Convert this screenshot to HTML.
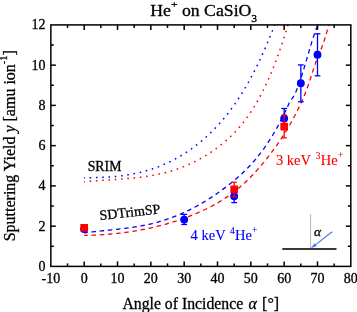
<!DOCTYPE html>
<html><head><meta charset="utf-8"><style>
html,body{margin:0;padding:0;background:#fff;}
svg{display:block;font-family:"Liberation Serif",serif;will-change:transform;}
text{stroke-width:0.3px;stroke-linejoin:round;}
</style></head><body>
<svg width="357" height="312" viewBox="0 0 357 312">
<rect width="357" height="312" fill="#fff"/>
<g fill="none" stroke-width="1.5">
<path d="M84.10,177.72 L85.10,177.72 L86.10,177.72 L87.10,177.72 L88.10,177.72 L89.10,177.72 L90.10,177.71 L91.10,177.70 L92.10,177.68 L93.10,177.67 L94.10,177.65 L95.10,177.63 L96.10,177.61 L97.10,177.58 L98.10,177.55 L99.10,177.52 L100.10,177.49 L101.10,177.45 L102.10,177.41 L103.10,177.36 L104.10,177.31 L105.10,177.26 L106.10,177.20 L107.10,177.14 L108.10,177.08 L109.10,177.01 L110.10,176.94 L111.10,176.86 L112.10,176.78 L113.10,176.69 L114.10,176.60 L115.10,176.51 L116.10,176.41 L117.10,176.31 L118.10,176.20 L119.10,176.09 L120.10,175.97 L121.10,175.85 L122.10,175.72 L123.10,175.58 L124.10,175.44 L125.10,175.30 L126.10,175.15 L127.10,174.99 L128.10,174.83 L129.10,174.66 L130.10,174.49 L131.10,174.31 L132.10,174.12 L133.10,173.93 L134.10,173.73 L135.10,173.53 L136.10,173.32 L137.10,173.10 L138.10,172.88 L139.10,172.65 L140.10,172.41 L141.10,172.16 L142.10,171.91 L143.10,171.65 L144.10,171.39 L145.10,171.11 L146.10,170.83 L147.10,170.54 L148.10,170.25 L149.10,169.95 L150.10,169.63 L151.10,169.32 L152.10,168.99 L153.10,168.65 L154.10,168.31 L155.10,167.96 L156.10,167.60 L157.10,167.23 L158.10,166.85 L159.10,166.47 L160.10,166.07 L161.10,165.67 L162.10,165.26 L163.10,164.84 L164.10,164.41 L165.10,163.97 L166.10,163.52 L167.10,163.07 L168.10,162.60 L169.10,162.12 L170.10,161.64 L171.10,161.14 L172.10,160.64 L173.10,160.12 L174.10,159.60 L175.10,159.06 L176.10,158.52 L177.10,157.96 L178.10,157.40 L179.10,156.82 L180.10,156.24 L181.10,155.64 L182.10,155.03 L183.10,154.41 L184.10,153.78 L185.10,153.14 L186.10,152.49 L187.10,151.83 L188.10,151.15 L189.10,150.47 L190.10,149.77 L191.10,149.06 L192.10,148.34 L193.10,147.61 L194.10,146.87 L195.10,146.11 L196.10,145.35 L197.10,144.57 L198.10,143.78 L199.10,142.97 L200.10,142.16 L201.10,141.33 L202.10,140.49 L203.10,139.64 L204.10,138.77 L205.10,137.89 L206.10,136.99 L207.10,136.09 L208.10,135.16 L209.10,134.23 L210.10,133.28 L211.10,132.31 L212.10,131.32 L213.10,130.33 L214.10,129.31 L215.10,128.28 L216.10,127.23 L217.10,126.16 L218.10,125.08 L219.10,123.98 L220.10,122.86 L221.10,121.72 L222.10,120.56 L223.10,119.38 L224.10,118.19 L225.10,116.97 L226.10,115.74 L227.10,114.48 L228.10,113.20 L229.10,111.90 L230.10,110.58 L231.10,109.24 L232.10,107.88 L233.10,106.49 L234.10,105.08 L235.10,103.65 L236.10,102.19 L237.10,100.71 L238.10,99.21 L239.10,97.68 L240.10,96.13 L241.10,94.55 L242.10,92.95 L243.10,91.32 L244.10,89.67 L245.10,87.99 L246.10,86.28 L247.10,84.55 L248.10,82.79 L249.10,81.00 L250.10,79.18 L251.10,77.34 L252.10,75.46 L253.10,73.56 L254.10,71.63 L255.10,69.67 L256.10,67.68 L257.10,65.66 L258.10,63.61 L259.10,61.53 L260.10,59.41 L261.10,57.27 L262.10,55.09 L263.10,52.89 L264.10,50.65 L265.10,48.37 L266.10,46.07 L267.10,43.73 L268.10,41.36 L269.10,38.95 L270.10,36.51 L271.10,34.03 L272.10,31.52 L273.10,28.97 L274.10,26.39 L274.67,24.90" stroke="#0000ff" stroke-dasharray="1.6 4.7" stroke-dashoffset="0.8" stroke-width="1.5"/>
<path d="M84.10,181.72 L85.10,181.63 L86.10,181.54 L87.10,181.45 L88.10,181.37 L89.10,181.28 L90.10,181.20 L91.10,181.13 L92.10,181.05 L93.10,180.97 L94.10,180.90 L95.10,180.83 L96.10,180.76 L97.10,180.69 L98.10,180.62 L99.10,180.55 L100.10,180.49 L101.10,180.42 L102.10,180.36 L103.10,180.29 L104.10,180.23 L105.10,180.17 L106.10,180.10 L107.10,180.04 L108.10,179.98 L109.10,179.91 L110.10,179.85 L111.10,179.79 L112.10,179.72 L113.10,179.66 L114.10,179.59 L115.10,179.52 L116.10,179.46 L117.10,179.39 L118.10,179.32 L119.10,179.25 L120.10,179.18 L121.10,179.10 L122.10,179.03 L123.10,178.95 L124.10,178.87 L125.10,178.79 L126.10,178.71 L127.10,178.62 L128.10,178.53 L129.10,178.44 L130.10,178.35 L131.10,178.26 L132.10,178.16 L133.10,178.06 L134.10,177.96 L135.10,177.85 L136.10,177.74 L137.10,177.63 L138.10,177.51 L139.10,177.39 L140.10,177.27 L141.10,177.14 L142.10,177.01 L143.10,176.87 L144.10,176.74 L145.10,176.59 L146.10,176.44 L147.10,176.29 L148.10,176.14 L149.10,175.97 L150.10,175.81 L151.10,175.64 L152.10,175.46 L153.10,175.28 L154.10,175.09 L155.10,174.90 L156.10,174.70 L157.10,174.50 L158.10,174.29 L159.10,174.08 L160.10,173.86 L161.10,173.63 L162.10,173.40 L163.10,173.16 L164.10,172.92 L165.10,172.67 L166.10,172.41 L167.10,172.14 L168.10,171.87 L169.10,171.59 L170.10,171.31 L171.10,171.01 L172.10,170.71 L173.10,170.41 L174.10,170.09 L175.10,169.77 L176.10,169.44 L177.10,169.10 L178.10,168.76 L179.10,168.40 L180.10,168.04 L181.10,167.67 L182.10,167.29 L183.10,166.90 L184.10,166.51 L185.10,166.10 L186.10,165.69 L187.10,165.27 L188.10,164.83 L189.10,164.39 L190.10,163.94 L191.10,163.48 L192.10,163.02 L193.10,162.54 L194.10,162.05 L195.10,161.55 L196.10,161.04 L197.10,160.52 L198.10,159.99 L199.10,159.45 L200.10,158.91 L201.10,158.35 L202.10,157.77 L203.10,157.19 L204.10,156.60 L205.10,156.00 L206.10,155.38 L207.10,154.76 L208.10,154.12 L209.10,153.47 L210.10,152.81 L211.10,152.14 L212.10,151.46 L213.10,150.76 L214.10,150.05 L215.10,149.33 L216.10,148.60 L217.10,147.86 L218.10,147.10 L219.10,146.33 L220.10,145.55 L221.10,144.75 L222.10,143.94 L223.10,143.12 L224.10,142.29 L225.10,141.44 L226.10,140.57 L227.10,139.69 L228.10,138.79 L229.10,137.87 L230.10,136.93 L231.10,135.98 L232.10,135.00 L233.10,134.00 L234.10,132.98 L235.10,131.94 L236.10,130.87 L237.10,129.78 L238.10,128.67 L239.10,127.53 L240.10,126.36 L241.10,125.17 L242.10,123.95 L243.10,122.70 L244.10,121.42 L245.10,120.11 L246.10,118.77 L247.10,117.40 L248.10,115.99 L249.10,114.55 L250.10,113.08 L251.10,111.58 L252.10,110.04 L253.10,108.46 L254.10,106.84 L255.10,105.19 L256.10,103.50 L257.10,101.77 L258.10,100.00 L259.10,98.19 L260.10,96.34 L261.10,94.45 L262.10,92.51 L263.10,90.53 L264.10,88.51 L265.10,86.44 L266.10,84.32 L267.10,82.16 L268.10,79.95 L269.10,77.69 L270.10,75.38 L271.10,73.02 L272.10,70.62 L273.10,68.16 L274.10,65.65 L275.10,63.08 L276.10,60.47 L277.10,57.79 L278.10,55.07 L279.10,52.29 L280.10,49.45 L281.10,46.55 L282.10,43.60 L283.10,40.59 L284.10,37.51 L285.10,34.38 L286.10,31.19 L287.10,27.93 L288.01,24.90" stroke="#ff0000" stroke-dasharray="1.6 4.7" stroke-dashoffset="0.8" stroke-width="1.5"/>
<path d="M84.10,232.89 L85.10,232.77 L86.10,232.64 L87.10,232.51 L88.10,232.39 L89.10,232.27 L90.10,232.16 L91.10,232.04 L92.10,231.93 L93.10,231.81 L94.10,231.70 L95.10,231.59 L96.10,231.48 L97.10,231.38 L98.10,231.27 L99.10,231.17 L100.10,231.06 L101.10,230.96 L102.10,230.86 L103.10,230.75 L104.10,230.65 L105.10,230.55 L106.10,230.44 L107.10,230.34 L108.10,230.24 L109.10,230.14 L110.10,230.03 L111.10,229.93 L112.10,229.82 L113.10,229.72 L114.10,229.61 L115.10,229.50 L116.10,229.39 L117.10,229.28 L118.10,229.17 L119.10,229.06 L120.10,228.94 L121.10,228.82 L122.10,228.70 L123.10,228.58 L124.10,228.46 L125.10,228.33 L126.10,228.20 L127.10,228.07 L128.10,227.94 L129.10,227.80 L130.10,227.66 L131.10,227.52 L132.10,227.37 L133.10,227.22 L134.10,227.07 L135.10,226.91 L136.10,226.75 L137.10,226.59 L138.10,226.42 L139.10,226.25 L140.10,226.07 L141.10,225.89 L142.10,225.70 L143.10,225.51 L144.10,225.32 L145.10,225.12 L146.10,224.91 L147.10,224.70 L148.10,224.49 L149.10,224.27 L150.10,224.04 L151.10,223.81 L152.10,223.57 L153.10,223.33 L154.10,223.08 L155.10,222.82 L156.10,222.56 L157.10,222.29 L158.10,222.02 L159.10,221.74 L160.10,221.45 L161.10,221.15 L162.10,220.85 L163.10,220.54 L164.10,220.23 L165.10,219.91 L166.10,219.58 L167.10,219.24 L168.10,218.90 L169.10,218.55 L170.10,218.19 L171.10,217.83 L172.10,217.46 L173.10,217.08 L174.10,216.70 L175.10,216.31 L176.10,215.91 L177.10,215.51 L178.10,215.10 L179.10,214.68 L180.10,214.25 L181.10,213.82 L182.10,213.38 L183.10,212.93 L184.10,212.48 L185.10,212.02 L186.10,211.55 L187.10,211.08 L188.10,210.59 L189.10,210.11 L190.10,209.61 L191.10,209.11 L192.10,208.60 L193.10,208.08 L194.10,207.55 L195.10,207.02 L196.10,206.48 L197.10,205.93 L198.10,205.38 L199.10,204.82 L200.10,204.25 L201.10,203.68 L202.10,203.09 L203.10,202.50 L204.10,201.91 L205.10,201.30 L206.10,200.69 L207.10,200.07 L208.10,199.44 L209.10,198.81 L210.10,198.17 L211.10,197.52 L212.10,196.86 L213.10,196.20 L214.10,195.52 L215.10,194.84 L216.10,194.16 L217.10,193.46 L218.10,192.76 L219.10,192.05 L220.10,191.34 L221.10,190.61 L222.10,189.88 L223.10,189.14 L224.10,188.39 L225.10,187.64 L226.10,186.88 L227.10,186.11 L228.10,185.33 L229.10,184.55 L230.10,183.75 L231.10,182.95 L232.10,182.14 L233.10,181.32 L234.10,180.49 L235.10,179.66 L236.10,178.81 L237.10,177.95 L238.10,177.07 L239.10,176.19 L240.10,175.29 L241.10,174.38 L242.10,173.45 L243.10,172.51 L244.10,171.55 L245.10,170.58 L246.10,169.59 L247.10,168.58 L248.10,167.56 L249.10,166.52 L250.10,165.45 L251.10,164.37 L252.10,163.27 L253.10,162.15 L254.10,161.01 L255.10,159.84 L256.10,158.66 L257.10,157.45 L258.10,156.21 L259.10,154.96 L260.10,153.67 L261.10,152.37 L262.10,151.03 L263.10,149.67 L264.10,148.29 L265.10,146.87 L266.10,145.43 L267.10,143.96 L268.10,142.46 L269.10,140.93 L270.10,139.37 L271.10,137.78 L272.10,136.16 L273.10,134.51 L274.10,132.82 L275.10,131.10 L276.10,129.34 L277.10,127.56 L278.10,125.73 L279.10,123.87 L280.10,121.98 L281.10,120.05 L282.10,118.08 L283.10,116.07 L284.10,114.02 L285.10,111.94 L286.10,109.82 L287.10,107.65 L288.10,105.45 L289.10,103.22 L290.10,101.36 L291.10,99.93 L292.10,98.64 L293.10,97.21 L294.10,95.48 L295.10,93.47 L296.10,91.23 L297.10,88.79 L298.10,86.19 L299.10,83.45 L300.10,80.58 L301.10,77.59 L302.10,74.49 L303.10,71.31 L304.10,68.05 L305.10,64.72 L306.10,61.35 L307.10,57.94 L308.10,54.51 L309.10,51.08 L310.10,47.68 L311.10,44.33 L312.10,41.06 L313.10,37.89 L314.10,34.86 L315.10,31.98 L316.10,29.29 L317.10,26.80 L317.94,24.90" stroke="#0000ff" stroke-dasharray="4.5 3.72" stroke-dashoffset="0.8" stroke-width="1.3"/>
<path d="M84.10,235.41 L85.10,235.40 L86.10,235.38 L87.10,235.36 L88.10,235.33 L89.10,235.31 L90.10,235.28 L91.10,235.25 L92.10,235.21 L93.10,235.18 L94.10,235.14 L95.10,235.09 L96.10,235.05 L97.10,235.00 L98.10,234.95 L99.10,234.89 L100.10,234.84 L101.10,234.78 L102.10,234.72 L103.10,234.65 L104.10,234.58 L105.10,234.51 L106.10,234.44 L107.10,234.36 L108.10,234.28 L109.10,234.20 L110.10,234.11 L111.10,234.02 L112.10,233.93 L113.10,233.83 L114.10,233.74 L115.10,233.63 L116.10,233.53 L117.10,233.42 L118.10,233.31 L119.10,233.20 L120.10,233.08 L121.10,232.96 L122.10,232.84 L123.10,232.71 L124.10,232.58 L125.10,232.45 L126.10,232.31 L127.10,232.17 L128.10,232.03 L129.10,231.89 L130.10,231.74 L131.10,231.58 L132.10,231.43 L133.10,231.27 L134.10,231.11 L135.10,230.94 L136.10,230.77 L137.10,230.60 L138.10,230.42 L139.10,230.24 L140.10,230.06 L141.10,229.87 L142.10,229.68 L143.10,229.49 L144.10,229.29 L145.10,229.09 L146.10,228.89 L147.10,228.68 L148.10,228.47 L149.10,228.26 L150.10,228.04 L151.10,227.82 L152.10,227.59 L153.10,227.36 L154.10,227.13 L155.10,226.89 L156.10,226.65 L157.10,226.41 L158.10,226.16 L159.10,225.91 L160.10,225.65 L161.10,225.39 L162.10,225.13 L163.10,224.86 L164.10,224.59 L165.10,224.31 L166.10,224.03 L167.10,223.75 L168.10,223.46 L169.10,223.17 L170.10,222.87 L171.10,222.57 L172.10,222.26 L173.10,221.95 L174.10,221.64 L175.10,221.32 L176.10,221.00 L177.10,220.67 L178.10,220.34 L179.10,220.00 L180.10,219.66 L181.10,219.31 L182.10,218.96 L183.10,218.60 L184.10,218.24 L185.10,217.88 L186.10,217.51 L187.10,217.13 L188.10,216.75 L189.10,216.37 L190.10,215.98 L191.10,215.59 L192.10,215.19 L193.10,214.78 L194.10,214.37 L195.10,213.96 L196.10,213.54 L197.10,213.11 L198.10,212.68 L199.10,212.24 L200.10,211.80 L201.10,211.35 L202.10,210.90 L203.10,210.44 L204.10,209.97 L205.10,209.50 L206.10,209.02 L207.10,208.53 L208.10,208.04 L209.10,207.53 L210.10,207.02 L211.10,206.50 L212.10,205.98 L213.10,205.44 L214.10,204.89 L215.10,204.34 L216.10,203.78 L217.10,203.21 L218.10,202.62 L219.10,202.03 L220.10,201.43 L221.10,200.82 L222.10,200.19 L223.10,199.56 L224.10,198.91 L225.10,198.26 L226.10,197.59 L227.10,196.91 L228.10,196.22 L229.10,195.51 L230.10,194.80 L231.10,194.07 L232.10,193.33 L233.10,192.57 L234.10,191.81 L235.10,191.02 L236.10,190.23 L237.10,189.42 L238.10,188.60 L239.10,187.76 L240.10,186.91 L241.10,186.04 L242.10,185.16 L243.10,184.26 L244.10,183.35 L245.10,182.43 L246.10,181.48 L247.10,180.53 L248.10,179.56 L249.10,178.57 L250.10,177.57 L251.10,176.56 L252.10,175.53 L253.10,174.48 L254.10,173.42 L255.10,172.34 L256.10,171.25 L257.10,170.15 L258.10,169.02 L259.10,167.89 L260.10,166.74 L261.10,165.57 L262.10,164.39 L263.10,163.19 L264.10,161.98 L265.10,160.75 L266.10,159.51 L267.10,158.25 L268.10,156.97 L269.10,155.68 L270.10,154.38 L271.10,153.06 L272.10,151.72 L273.10,150.37 L274.10,149.01 L275.10,147.62 L276.10,146.22 L277.10,144.80 L278.10,143.36 L279.10,141.90 L280.10,140.42 L281.10,138.92 L282.10,137.40 L283.10,135.85 L284.10,134.27 L285.10,132.67 L286.10,131.05 L287.10,129.39 L288.10,127.71 L289.10,126.00 L290.10,124.26 L291.10,122.48 L292.10,120.68 L293.10,118.84 L294.10,116.97 L295.10,115.06 L296.10,113.12 L297.10,111.14 L298.10,109.12 L299.10,107.07 L300.10,104.97 L301.10,102.83 L302.10,100.64 L303.10,98.38 L304.10,96.04 L305.10,93.61 L306.10,91.07 L307.10,88.41 L308.10,85.61 L309.10,82.68 L310.10,79.65 L311.10,76.55 L312.10,73.44 L313.10,70.34 L314.10,67.31 L315.10,64.38 L316.10,61.59 L317.10,58.97 L318.10,56.48 L319.10,54.05 L320.10,51.64 L321.10,49.18 L322.10,46.61 L323.10,43.89 L324.10,40.94 L325.10,37.73 L326.10,34.34 L327.10,30.94 L328.10,27.71 L329.07,24.90" stroke="#ff0000" stroke-dasharray="4.5 3.72" stroke-dashoffset="0.8" stroke-width="1.3"/>
</g>
<g fill="#0000ff" stroke="#0000ff" stroke-width="1.3"><circle cx="84.18" cy="229.10" r="3.35"/><line x1="184.17" y1="214.4" x2="184.17" y2="224.5"/><line x1="181.27" y1="214.4" x2="187.07" y2="214.4"/><line x1="181.27" y1="224.5" x2="187.07" y2="224.5"/><circle cx="184.17" cy="219.60" r="3.3"/><line x1="234.16" y1="189.8" x2="234.16" y2="202.6"/><line x1="231.26" y1="189.8" x2="237.06" y2="189.8"/><line x1="231.26" y1="202.6" x2="237.06" y2="202.6"/><circle cx="234.16" cy="196.20" r="3.3"/><line x1="284.16" y1="108.5" x2="284.16" y2="128"/><line x1="281.26" y1="108.5" x2="287.06" y2="108.5"/><line x1="281.26" y1="128" x2="287.06" y2="128"/><circle cx="284.16" cy="118.40" r="3.3"/><line x1="300.83" y1="64.9" x2="300.83" y2="101.8"/><line x1="297.93" y1="64.9" x2="303.73" y2="64.9"/><line x1="297.93" y1="101.8" x2="303.73" y2="101.8"/><circle cx="300.83" cy="83.20" r="3.3"/><line x1="317.49" y1="33.8" x2="317.49" y2="75.8"/><line x1="314.59" y1="33.8" x2="320.39" y2="33.8"/><line x1="314.59" y1="75.8" x2="320.39" y2="75.8"/><circle cx="317.49" cy="54.70" r="3.3"/></g>
<g fill="#ff0000" stroke="#ff0000" stroke-width="1.3"><rect x="81.03" y="224.65" width="6.3" height="6.3"/><line x1="234.16" y1="182.2" x2="234.16" y2="196.8"/><line x1="231.56" y1="182.2" x2="236.76" y2="182.2"/><line x1="231.56" y1="196.8" x2="236.76" y2="196.8"/><rect x="231.01" y="186.15" width="6.3" height="6.3"/><line x1="284.16" y1="115" x2="284.16" y2="137.8"/><line x1="281.56" y1="115" x2="286.76" y2="115"/><line x1="281.56" y1="137.8" x2="286.76" y2="137.8"/><rect x="281.01" y="123.45" width="6.3" height="6.3"/></g>
<g stroke="#000" stroke-width="1.5">
<rect x="50.85" y="24.9" width="299.97" height="241.50" fill="none"/>
<line x1="67.52" y1="266.4" x2="67.52" y2="263.4"/>
<line x1="67.52" y1="24.9" x2="67.52" y2="27.9"/>
<line x1="84.18" y1="266.4" x2="84.18" y2="261.4"/>
<line x1="84.18" y1="24.9" x2="84.18" y2="29.9"/>
<line x1="100.84" y1="266.4" x2="100.84" y2="263.4"/>
<line x1="100.84" y1="24.9" x2="100.84" y2="27.9"/>
<line x1="117.51" y1="266.4" x2="117.51" y2="261.4"/>
<line x1="117.51" y1="24.9" x2="117.51" y2="29.9"/>
<line x1="134.18" y1="266.4" x2="134.18" y2="263.4"/>
<line x1="134.18" y1="24.9" x2="134.18" y2="27.9"/>
<line x1="150.84" y1="266.4" x2="150.84" y2="261.4"/>
<line x1="150.84" y1="24.9" x2="150.84" y2="29.9"/>
<line x1="167.50" y1="266.4" x2="167.50" y2="263.4"/>
<line x1="167.50" y1="24.9" x2="167.50" y2="27.9"/>
<line x1="184.17" y1="266.4" x2="184.17" y2="261.4"/>
<line x1="184.17" y1="24.9" x2="184.17" y2="29.9"/>
<line x1="200.84" y1="266.4" x2="200.84" y2="263.4"/>
<line x1="200.84" y1="24.9" x2="200.84" y2="27.9"/>
<line x1="217.50" y1="266.4" x2="217.50" y2="261.4"/>
<line x1="217.50" y1="24.9" x2="217.50" y2="29.9"/>
<line x1="234.16" y1="266.4" x2="234.16" y2="263.4"/>
<line x1="234.16" y1="24.9" x2="234.16" y2="27.9"/>
<line x1="250.83" y1="266.4" x2="250.83" y2="261.4"/>
<line x1="250.83" y1="24.9" x2="250.83" y2="29.9"/>
<line x1="267.50" y1="266.4" x2="267.50" y2="263.4"/>
<line x1="267.50" y1="24.9" x2="267.50" y2="27.9"/>
<line x1="284.16" y1="266.4" x2="284.16" y2="261.4"/>
<line x1="284.16" y1="24.9" x2="284.16" y2="29.9"/>
<line x1="300.83" y1="266.4" x2="300.83" y2="263.4"/>
<line x1="300.83" y1="24.9" x2="300.83" y2="27.9"/>
<line x1="317.49" y1="266.4" x2="317.49" y2="261.4"/>
<line x1="317.49" y1="24.9" x2="317.49" y2="29.9"/>
<line x1="334.16" y1="266.4" x2="334.16" y2="263.4"/>
<line x1="334.16" y1="24.9" x2="334.16" y2="27.9"/>
<line x1="50.85" y1="246.27" x2="53.85" y2="246.27"/>
<line x1="350.82000000000005" y1="246.27" x2="347.82000000000005" y2="246.27"/>
<line x1="50.85" y1="226.15" x2="55.85" y2="226.15"/>
<line x1="350.82000000000005" y1="226.15" x2="345.82000000000005" y2="226.15"/>
<line x1="50.85" y1="206.02" x2="53.85" y2="206.02"/>
<line x1="350.82000000000005" y1="206.02" x2="347.82000000000005" y2="206.02"/>
<line x1="50.85" y1="185.90" x2="55.85" y2="185.90"/>
<line x1="350.82000000000005" y1="185.90" x2="345.82000000000005" y2="185.90"/>
<line x1="50.85" y1="165.77" x2="53.85" y2="165.77"/>
<line x1="350.82000000000005" y1="165.77" x2="347.82000000000005" y2="165.77"/>
<line x1="50.85" y1="145.65" x2="55.85" y2="145.65"/>
<line x1="350.82000000000005" y1="145.65" x2="345.82000000000005" y2="145.65"/>
<line x1="50.85" y1="125.53" x2="53.85" y2="125.53"/>
<line x1="350.82000000000005" y1="125.53" x2="347.82000000000005" y2="125.53"/>
<line x1="50.85" y1="105.40" x2="55.85" y2="105.40"/>
<line x1="350.82000000000005" y1="105.40" x2="345.82000000000005" y2="105.40"/>
<line x1="50.85" y1="85.28" x2="53.85" y2="85.28"/>
<line x1="350.82000000000005" y1="85.28" x2="347.82000000000005" y2="85.28"/>
<line x1="50.85" y1="65.15" x2="55.85" y2="65.15"/>
<line x1="350.82000000000005" y1="65.15" x2="345.82000000000005" y2="65.15"/>
<line x1="50.85" y1="45.03" x2="53.85" y2="45.03"/>
<line x1="350.82000000000005" y1="45.03" x2="347.82000000000005" y2="45.03"/>
</g>
<g font-size="14" fill="#000" stroke="#000">
<text x="50.85" y="282.8" text-anchor="middle">-10</text>
<text x="84.18" y="282.8" text-anchor="middle">0</text>
<text x="117.51" y="282.8" text-anchor="middle">10</text>
<text x="150.84" y="282.8" text-anchor="middle">20</text>
<text x="184.17" y="282.8" text-anchor="middle">30</text>
<text x="217.50" y="282.8" text-anchor="middle">40</text>
<text x="250.83" y="282.8" text-anchor="middle">50</text>
<text x="284.16" y="282.8" text-anchor="middle">60</text>
<text x="317.49" y="282.8" text-anchor="middle">70</text>
<text x="350.82" y="282.8" text-anchor="middle">80</text>
<text x="45.5" y="270.80" text-anchor="end">0</text>
<text x="45.5" y="230.55" text-anchor="end">2</text>
<text x="45.5" y="190.30" text-anchor="end">4</text>
<text x="45.5" y="150.05" text-anchor="end">6</text>
<text x="45.5" y="109.80" text-anchor="end">8</text>
<text x="45.5" y="69.55" text-anchor="end">10</text>
<text x="45.5" y="29.30" text-anchor="end">12</text>
</g>
<text stroke="#000" transform="translate(150.3,15.6) scale(1.108,1)" font-size="16">He<tspan dy="-8" font-size="10.5">+</tspan><tspan dy="8"> on CaSiO</tspan><tspan dy="6.1" font-size="10.5">3</tspan></text>
<text stroke="#000" transform="translate(122.4,308.8) scale(0.985,1)" font-size="16">Angle of Incidence</text><text stroke="#000" x="248.6" y="308.8" font-size="16" font-style="italic">α</text><text stroke="#000" x="262.1" y="308.8" font-size="16">[°]</text>
<text stroke="#000" transform="translate(14.6,241.3) rotate(-90)" font-size="16">Sputtering Yield <tspan font-style="italic">y</tspan> [amu ion<tspan dy="-8" font-size="10.5">-1</tspan><tspan dy="8">]</tspan></text>
<text stroke="#000" x="87.7" y="170.9" font-size="13.8">SRIM</text>
<text stroke="#000" transform="translate(100.1,220) rotate(-6.3)" font-size="14">SDTrimSP</text>
<text x="275.9" y="164.6" font-size="14.5" fill="#ff0000" stroke="#ff0000" style="stroke-width:0.12px">3 keV <tspan dx="1.5" dy="-6" font-size="9.5">3</tspan><tspan dx="0.3" dy="6">He</tspan><tspan dx="0.2" dy="-7" font-size="9.5">+</tspan></text>
<text x="190.6" y="239.6" font-size="14.5" fill="#0000ff" stroke="#0000ff" style="stroke-width:0.12px">4 keV <tspan dx="1" dy="-6" font-size="9.5">4</tspan><tspan dx="0.3" dy="6">He</tspan><tspan dy="-7" font-size="9.5">+</tspan></text>
<line x1="310.6" y1="214" x2="310.6" y2="248" stroke="#b8b8b8" stroke-width="1"/>
<line x1="282.3" y1="249" x2="336.5" y2="249" stroke="#383838" stroke-width="2"/>
<line x1="332.2" y1="231.8" x2="315" y2="245.1" stroke="#4f6ff7" stroke-width="1.1"/>
<path d="M310.9,248.3 L314.54,243.18 L316.74,246.02 Z" fill="#4f6ff7"/>
<text stroke="#000" x="314" y="236.4" font-size="13.5" font-style="italic">α</text>
</svg>
</body></html>
